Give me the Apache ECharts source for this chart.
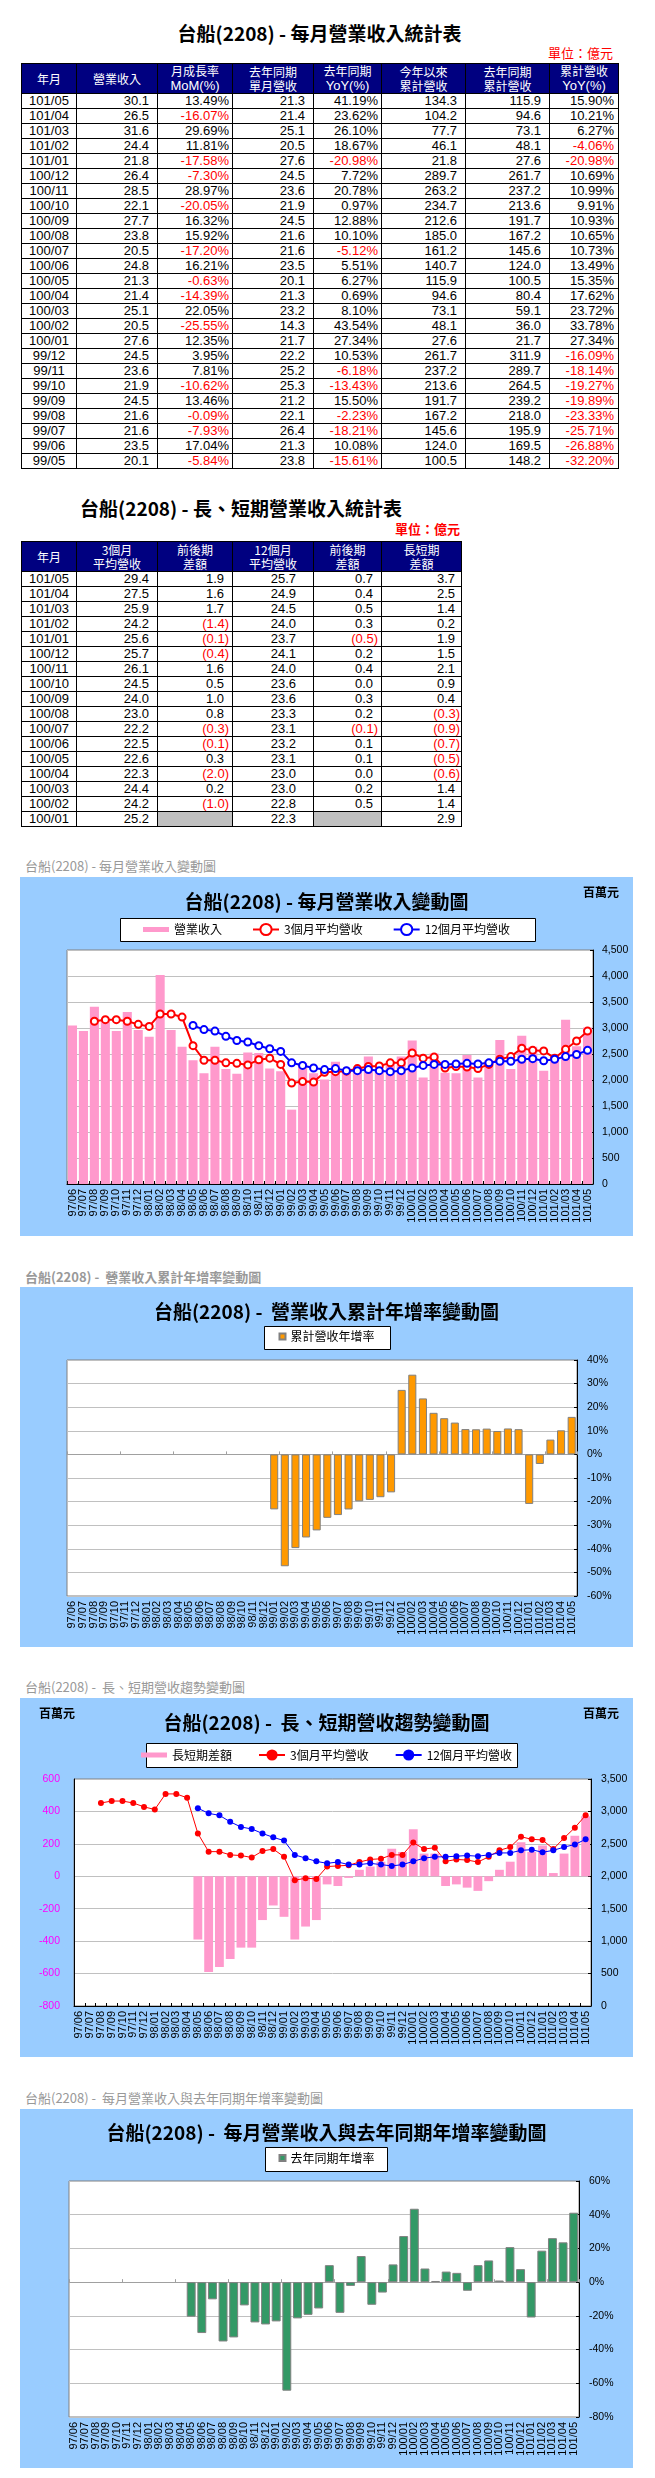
<!DOCTYPE html>
<html>
<head>
<meta charset="utf-8">
<title>台船(2208) 營業收入統計</title>
<script src="https://cdn.jsdelivr.net/npm/echarts@6.0.0/dist/echarts.min.js"></script>
<style>
  body { margin: 0; width: 655px; height: 2478px; position: relative; background: #fff; }
  .ttl { position: absolute; text-align: center; font: bold 19px/22px "Noto Sans CJK TC", sans-serif; color: #000; white-space: nowrap; }
  .unit { position: absolute; text-align: right; font: 13px/16px "Noto Sans CJK TC", sans-serif; color: #f00; white-space: nowrap; }
  .cap { position: absolute; left: 25px; font: 13px/16px "Noto Sans CJK TC", sans-serif; color: #999; white-space: nowrap; }
  .chart { position: absolute; left: 20px; width: 613px; background: #99ccff; }
  table.tb { position: absolute; border-collapse: collapse; table-layout: fixed; border: 1px solid #000; }
  .tb td, .tb th { border: 1px solid #000; padding: 0; white-space: nowrap; overflow: hidden; }
  .tb th { background: #000080; color: #fff; font: normal 12px/14px "Noto Sans CJK TC", sans-serif; text-align: center; height: 29px; }
  .tb th .en { font-family: "Liberation Sans", Arial, sans-serif; font-size: 13px; }
  .tb td { font: 13px/14px "Liberation Sans", Arial, sans-serif; color: #000; height: 14px; text-align: right; }
  .tb td.m { text-align: center; }
  .tb .neg { color: #f00; }
  .tb .gray { background: #c0c0c0; }
</style>
</head>
<body>

<div class="ttl" style="left:21px;width:597px;top:22px">台船(2208) - 每月營業收入統計表</div>
<div class="unit" style="left:500px;width:113px;top:45px">單位：億元</div>
<table class="tb" id="t1" style="left:21px;top:63px;width:597px"></table>

<div class="ttl" style="left:21px;width:440px;top:497px">台船(2208) - 長、短期營業收入統計表</div>
<div class="unit" style="left:360px;width:100px;top:521px;font-weight:bold">單位：億元</div>
<table class="tb" id="t2" style="left:21px;top:541px;width:440px"></table>

<div class="cap" style="top:858px">台船(2208) - 每月營業收入變動圖</div>
<div class="chart" id="c1" style="top:877px;height:359px"></div>

<div class="cap" style="top:1269px;font-weight:bold">台船(2208) -&nbsp; 營業收入累計年增率變動圖</div>
<div class="chart" id="c2" style="top:1287px;height:360px"></div>

<div class="cap" style="top:1679px">台船(2208) -&nbsp; 長、短期營收趨勢變動圖</div>
<div class="chart" id="c3" style="top:1698px;height:359px"></div>

<div class="cap" style="top:2090px">台船(2208) -&nbsp; 每月營業收入與去年同期年增率變動圖</div>
<div class="chart" id="c4" style="top:2109px;height:359px"></div>

<script>
// ---- table 1 : 每月營業收入統計表 (億元)
const tblMonths = ['101/05','101/04','101/03','101/02','101/01','100/12','100/11','100/10','100/09','100/08','100/07','100/06','100/05','100/04','100/03','100/02','100/01','99/12','99/11','99/10','99/09','99/08','99/07','99/06','99/05'];
const tblRevenue = [30.1, 26.5, 31.6, 24.4, 21.8, 26.4, 28.5, 22.1, 27.7, 23.8, 20.5, 24.8, 21.3, 21.4, 25.1, 20.5, 27.6, 24.5, 23.6, 21.9, 24.5, 21.6, 21.6, 23.5, 20.1];
const tblMoM = [13.49, -16.07, 29.69, 11.81, -17.58, -7.30, 28.97, -20.05, 16.32, 15.92, -17.20, 16.21, -0.63, -14.39, 22.05, -25.55, 12.35, 3.95, 7.81, -10.62, 13.46, -0.09, -7.93, 17.04, -5.84];
const tblPrevRev = [21.3, 21.4, 25.1, 20.5, 27.6, 24.5, 23.6, 21.9, 24.5, 21.6, 21.6, 23.5, 20.1, 21.3, 23.2, 14.3, 21.7, 22.2, 25.2, 25.3, 21.2, 22.1, 26.4, 21.3, 23.8];
const tblYoY = [41.19, 23.62, 26.10, 18.67, -20.98, 7.72, 20.78, 0.97, 12.88, 10.10, -5.12, 5.51, 6.27, 0.69, 8.10, 43.54, 27.34, 10.53, -6.18, -13.43, 15.50, -2.23, -18.21, 10.08, -15.61];
const tblCum = [134.3, 104.2, 77.7, 46.1, 21.8, 289.7, 263.2, 234.7, 212.6, 185.0, 161.2, 140.7, 115.9, 94.6, 73.1, 48.1, 27.6, 261.7, 237.2, 213.6, 191.7, 167.2, 145.6, 124.0, 100.5];
const tblPrevCum = [115.9, 94.6, 73.1, 48.1, 27.6, 261.7, 237.2, 213.6, 191.7, 167.2, 145.6, 124.0, 100.5, 80.4, 59.1, 36.0, 21.7, 311.9, 289.7, 264.5, 239.2, 218.0, 195.9, 169.5, 148.2];
const tblCumYoY = [15.90, 10.21, 6.27, -4.06, -20.98, 10.69, 10.99, 9.91, 10.93, 10.65, 10.73, 13.49, 15.35, 17.62, 23.72, 33.78, 27.34, -16.09, -18.14, -19.27, -19.89, -23.33, -25.71, -26.88, -32.20];

// ---- table 2 : 長、短期營業收入統計表 (億元)
const t2Months = ['101/05','101/04','101/03','101/02','101/01','100/12','100/11','100/10','100/09','100/08','100/07','100/06','100/05','100/04','100/03','100/02','100/01'];
const t2Avg3 = [29.4, 27.5, 25.9, 24.2, 25.6, 25.7, 26.1, 24.5, 24.0, 23.0, 22.2, 22.5, 22.6, 22.3, 24.4, 24.2, 25.2];
const t2Diff3 = [1.9, 1.6, 1.7, -1.4, -0.1, -0.4, 1.6, 0.5, 1.0, 0.8, -0.3, -0.1, 0.3, -2.0, 0.2, -1.0, null];
const t2Avg12 = [25.7, 24.9, 24.5, 24.0, 23.7, 24.1, 24.0, 23.6, 23.6, 23.3, 23.1, 23.2, 23.1, 23.0, 23.0, 22.8, 22.3];
const t2Diff12 = [0.7, 0.4, 0.5, 0.3, -0.5, 0.2, 0.4, 0.0, 0.3, 0.2, -0.1, 0.1, 0.1, 0.0, 0.2, 0.5, null];
const t2LongShort = [3.7, 2.5, 1.4, 0.2, 1.9, 1.5, 2.1, 0.9, 0.4, -0.3, -0.9, -0.7, -0.5, -0.6, 1.4, 1.4, 2.9];

// ---- charts (百萬元 / %)
const months = ['97/06','97/07','97/08','97/09','97/10','97/11','97/12',
  '98/01','98/02','98/03','98/04','98/05','98/06','98/07','98/08','98/09','98/10','98/11','98/12',
  '99/01','99/02','99/03','99/04','99/05','99/06','99/07','99/08','99/09','99/10','99/11','99/12',
  '100/01','100/02','100/03','100/04','100/05','100/06','100/07','100/08','100/09','100/10','100/11','100/12',
  '101/01','101/02','101/03','101/04','101/05'];
const revenue = [3050, 2940, 3410, 3130, 2940, 3310, 2960,
  2830, 4020, 2960, 2640, 2380, 2130, 2640, 2210, 2120, 2530, 2520, 2220,
  2170, 1430, 2320, 2130, 2010, 2350, 2160, 2160, 2450, 2190, 2360, 2450,
  2760, 2050, 2510, 2140, 2130, 2480, 2050, 2380, 2770, 2210, 2850, 2640,
  2180, 2440, 3160, 2650, 3010];
const avg3 = [null, null, 3130, 3160, 3160, 3130, 3070,
  3030, 3270, 3270, 3210, 2660, 2380, 2380, 2330, 2320, 2290, 2390, 2420,
  2300, 1940, 1970, 1960, 2150, 2160, 2170, 2220, 2260, 2270, 2330, 2330,
  2520, 2420, 2440, 2230, 2260, 2250, 2220, 2300, 2400, 2450, 2610, 2570,
  2560, 2420, 2590, 2750, 2940];
const avg12 = [null, null, null, null, null, null, null,
  null, null, null, null, 3050, 2970, 2940, 2840, 2760, 2730, 2660, 2600,
  2550, 2330, 2280, 2230, 2200, 2220, 2180, 2180, 2200, 2180, 2160, 2180,
  2230, 2280, 2300, 2300, 2310, 2320, 2310, 2330, 2360, 2360, 2400, 2410,
  2370, 2400, 2450, 2490, 2570];
const longShort = [null, null, null, null, null, null, null,
  null, null, null, null, -390, -590, -560, -510, -440, -440, -270, -180,
  -250, -390, -310, -270, -50, -60, -10, 40, 60, 90, 170, 150,
  290, 140, 140, -60, -50, -70, -90, -30, 40, 90, 210, 150,
  190, 20, 140, 250, 370];
const cumYoY = [null, null, null, null, null, null, null,
  null, null, null, null, null, null, null, null, null, null, null, null,
  -23.3, -47.4, -39.7, -35.2, -32.20, -26.88, -25.71, -23.33, -19.89, -19.27, -18.14, -16.09,
  27.34, 33.78, 23.72, 17.62, 15.35, 13.49, 10.73, 10.65, 10.93, 9.91, 10.99, 10.69,
  -20.98, -4.06, 6.27, 10.21, 15.90];
const yoy = [null, null, null, null, null, null, null,
  null, null, null, null, -20.5, -30.2, -10.2, -35.2, -32.8, -13.8, -23.9, -25.1,
  -23.3, -64.4, -21.5, -19.4, -15.61, 10.08, -18.21, -2.23, 15.50, -13.43, -6.18, 10.53,
  27.34, 43.54, 8.10, 0.69, 6.27, 5.51, -5.12, 10.10, 12.88, 0.97, 20.78, 7.72,
  -20.98, 18.67, 26.10, 23.62, 41.19];

// ---------- tables ----------
function headRow (cols, widths) {
  let html = '<colgroup>' + widths.map(w => '<col style="width:' + w + 'px">').join('') + '</colgroup><tr>'
  cols.forEach(c => {
    const lines = c.map(t => /^[A-Za-z]/.test(t) ? '<span class="en">' + t + '</span>' : t)
    html += '<th>' + lines.join('<br>') + '</th>'
  })
  return html + '</tr>'
}
function numCell (v, pad) {
  return '<td style="padding-right:' + pad + 'px">' + v.toFixed(1) + '</td>'
}
function pctCell (v, pad) {
  return '<td class="' + (v < 0 ? 'neg' : '') + '" style="padding-right:' + pad + 'px">' + v.toFixed(2) + '%</td>'
}
function accCell (v, pad) {
  if (v === null) return '<td class="gray"></td>'
  if (v < 0) return '<td class="neg" style="padding-right:' + pad + 'px">(' + Math.abs(v).toFixed(1) + ')</td>'
  return '<td style="padding-right:' + (pad + 5) + 'px">' + v.toFixed(1) + '</td>'
}

let t1 = headRow([['年月'], ['營業收入'], ['月成長率', 'MoM(%)'], ['去年同期', '單月營收'], ['去年同期', 'YoY(%)'],
  ['今年以來', '累計營收'], ['去年同期', '累計營收'], ['累計營收', 'YoY(%)']], [55, 81, 75, 81, 68, 84, 84, 69])
tblMonths.forEach((m, i) => {
  t1 += '<tr><td class="m">' + m + '</td>' + numCell(tblRevenue[i], 8) + pctCell(tblMoM[i], 3) +
    numCell(tblPrevRev[i], 8) + pctCell(tblYoY[i], 3) + numCell(tblCum[i], 8) +
    numCell(tblPrevCum[i], 8) + pctCell(tblCumYoY[i], 4) + '</tr>'
})
document.getElementById('t1').innerHTML = t1

let t2 = headRow([['年月'], ['3個月', '平均營收'], ['前後期', '差額'], ['12個月', '平均營收'], ['前後期', '差額'], ['長短期', '差額']],
  [55, 81, 75, 81, 68, 80])
t2Months.forEach((m, i) => {
  t2 += '<tr><td class="m">' + m + '</td>' + numCell(t2Avg3[i], 8) + accCell(t2Diff3[i], 3) +
    numCell(t2Avg12[i], 17) + accCell(t2Diff12[i], 3) + accCell(t2LongShort[i], 1) + '</tr>'
})
document.getElementById('t2').innerHTML = t2

// ---------- charts ----------
const AX = '"Liberation Sans", Arial, sans-serif'
const CJK = '"Noto Sans CJK TC", sans-serif'
const fmtK = v => v.toLocaleString('en-US')

function chartTitle (text) {
  return { text: text, left: 'center', top: 15, padding: 0, textStyle: { fontFamily: CJK, fontSize: 19, fontWeight: 'bold', color: '#000' } }
}
function unitTitle (left) {
  return { text: '百萬元', left: left, top: 9, padding: 0, textStyle: { fontFamily: CJK, fontSize: 12, fontWeight: 'bold', color: '#000' } }
}
function legendBox (x, y, w, h) {
  return { type: 'rect', z: 1, shape: { x: x + 0.5, y: y + 0.5, width: w, height: h }, style: { fill: '#fff', stroke: '#000', lineWidth: 1 } }
}
function catLabels () {
  return { rotate: 90, interval: 0, fontSize: 11, fontFamily: AX, color: '#000', margin: 5 }
}
function plainX () {
  return {
    type: 'category', data: months,
    axisLine: { onZero: false, lineStyle: { color: '#000' } },
    axisTick: { show: true, inside: true, length: 3, lineStyle: { color: '#000' } },
    axisLabel: catLabels()
  }
}
function zeroX () {
  // labels at the bottom, axis line with ticks at 0
  return [
    { type: 'category', data: months, position: 'bottom', axisLine: { show: false, onZero: false }, axisTick: { show: false }, axisLabel: catLabels() },
    { type: 'category', data: months, position: 'bottom', axisLine: { onZero: true, lineStyle: { color: '#a0a0a0' } },
      axisTick: { show: true, inside: true, length: 3, lineStyle: { color: '#a0a0a0' } }, axisLabel: { show: false } }
  ]
}
function rightY (min, max, step, fmt, margin) {
  return {
    type: 'value', position: 'right', min: min, max: max, interval: step,
    axisLine: { show: true, lineStyle: { color: '#000' } },
    axisTick: { show: true, inside: true, length: 3, lineStyle: { color: '#000' } },
    splitLine: { lineStyle: { color: '#c0c0c0' } },
    axisLabel: { fontFamily: AX, fontSize: 10.5, color: '#000', margin: margin, formatter: fmt }
  }
}
function gridAt (l, r, t, b) {
  return { left: l, right: r, top: t, bottom: b, show: true, backgroundColor: '#fff', borderColor: '#808080', borderWidth: 1, outerBoundsMode: 'none' }
}
const legendText = { fontFamily: CJK, fontSize: 12, color: '#000' }
const barIcon = 'path://M0,0L0.01,0M0,4.5H26V9.5H0ZM0,14L0.01,14'

// chart 1
const c1 = echarts.init(document.getElementById('c1'))
c1.setOption({
  animation: false,
  title: [chartTitle('台船(2208) - 每月營業收入變動圖'), unitTitle(563)],
  graphic: [legendBox(100, 41, 415, 23)],
  legend: {
    left: 'center', top: 45.5, padding: 0, itemGap: 30, itemWidth: 26, itemHeight: 14, textStyle: legendText,
    data: [{ name: '營業收入', icon: barIcon }, { name: '3個月平均營收' }, { name: '12個月平均營收' }]
  },
  grid: gridAt(47, 40, 73, 52),
  xAxis: plainX(),
  yAxis: rightY(0, 4500, 500, fmtK, 9),
  series: [
    { name: '營業收入', type: 'bar', data: revenue, barCategoryGap: '17%', itemStyle: { color: '#ff99cc' } },
    { name: '3個月平均營收', type: 'line', data: avg3, symbol: 'emptyCircle', symbolSize: 7,
      lineStyle: { color: '#ff0000', width: 2 }, itemStyle: { color: '#ff0000', borderWidth: 1.5 } },
    { name: '12個月平均營收', type: 'line', data: avg12, symbol: 'emptyCircle', symbolSize: 7,
      lineStyle: { color: '#0000ff', width: 2 }, itemStyle: { color: '#0000ff', borderWidth: 1.5 } }
  ]
})

// chart 2
const c2 = echarts.init(document.getElementById('c2'))
c2.setOption({
  animation: false,
  title: [chartTitle('台船(2208) -  營業收入累計年增率變動圖')],
  graphic: [legendBox(244, 39, 126, 23)],
  legend: { left: 'center', top: 43.5, padding: 0, itemWidth: 6, itemHeight: 6, textStyle: legendText, data: [{ name: '累計營收年增率', icon: 'rect' }] },
  grid: gridAt(47, 56, 73, 51),
  xAxis: zeroX(),
  yAxis: rightY(-60, 40, 10, '{value}%', 10),
  series: [
    { name: '累計營收年增率', type: 'bar', xAxisIndex: 0, data: cumYoY, barCategoryGap: '24%',
      itemStyle: { color: '#ff9900', borderColor: '#808080', borderWidth: 1 } }
  ]
})

// chart 3
const c3 = echarts.init(document.getElementById('c3'))
c3.setOption({
  animation: false,
  title: [chartTitle('台船(2208) -  長、短期營收趨勢變動圖'), unitTitle(19), unitTitle(563)],
  graphic: [legendBox(126, 45, 371, 24)],
  legend: {
    left: 'center', top: 50, padding: 0, itemGap: 26, itemWidth: 26, itemHeight: 14, textStyle: legendText,
    data: [{ name: '長短期差額', icon: barIcon }, { name: '3個月平均營收' }, { name: '12個月平均營收' }]
  },
  grid: gridAt(54, 42, 81, 51),
  xAxis: plainX(),
  yAxis: [
    { type: 'value', position: 'left', min: -800, max: 600, interval: 200,
      axisLine: { show: true, lineStyle: { color: '#000' } }, axisTick: { show: false },
      splitLine: { lineStyle: { color: '#c0c0c0' } },
      axisLabel: { fontFamily: AX, fontSize: 10.5, color: '#ff00ff', margin: 14 } },
    Object.assign(rightY(0, 3500, 500, fmtK, 10), { splitLine: { show: false } })
  ],
  series: [
    { name: '長短期差額', type: 'bar', yAxisIndex: 0, data: longShort, barCategoryGap: '18%', itemStyle: { color: '#ff99cc' } },
    { name: '3個月平均營收', type: 'line', yAxisIndex: 1, data: avg3, symbol: 'circle', symbolSize: 6,
      lineStyle: { color: '#ff0000', width: 1 }, itemStyle: { color: '#ff0000' } },
    { name: '12個月平均營收', type: 'line', yAxisIndex: 1, data: avg12, symbol: 'circle', symbolSize: 6,
      lineStyle: { color: '#0000ff', width: 1 }, itemStyle: { color: '#0000ff' } }
  ]
})

// chart 4
const c4 = echarts.init(document.getElementById('c4'))
c4.setOption({
  animation: false,
  title: [Object.assign(chartTitle('台船(2208) -  每月營業收入與去年同期年增率變動圖'), { top: 14 })],
  graphic: [legendBox(245, 38, 122, 24)],
  legend: { left: 'center', top: 43, padding: 0, itemWidth: 6, itemHeight: 6, textStyle: legendText, data: [{ name: '去年同期年增率', icon: 'rect' }] },
  grid: gridAt(49, 54, 72, 51),
  xAxis: zeroX(),
  yAxis: rightY(-80, 60, 20, '{value}%', 10),
  series: [
    { name: '去年同期年增率', type: 'bar', xAxisIndex: 0, data: yoy, barCategoryGap: '16%',
      itemStyle: { color: '#339966', borderColor: '#808080', borderWidth: 1 } }
  ]
})
</script>
</body>
</html>
